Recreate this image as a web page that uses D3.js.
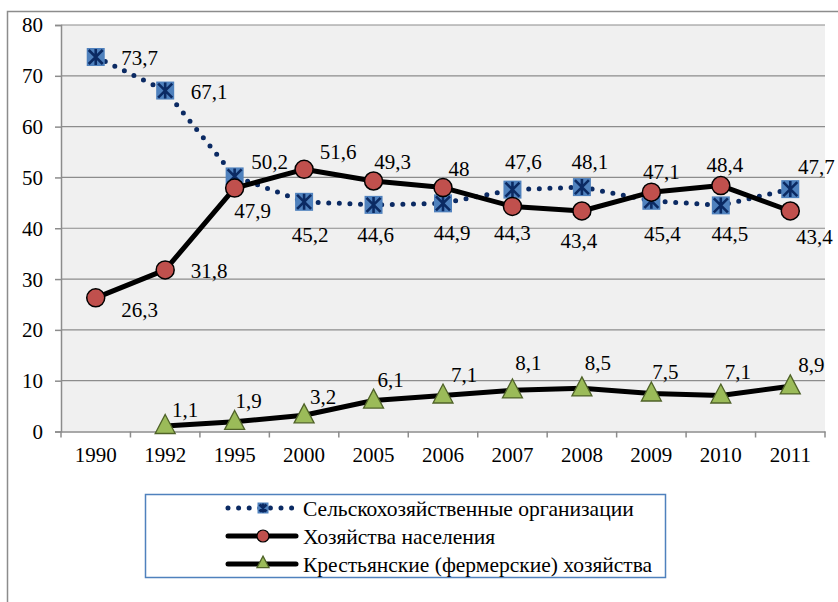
<!DOCTYPE html>
<html>
<head>
<meta charset="utf-8">
<script src="https://cdn.jsdelivr.net/npm/d3@7"></script>
<style>
  html, body { margin: 0; padding: 0; background: #fff; }
  svg { display: block; }
</style>
</head>
<body>
<svg id="chart" width="838" height="602"></svg>
<script>
// ---- data ----
const years = ["1990", "1992", "1995", "2000", "2005", "2006", "2007", "2008", "2009", "2010", "2011"];
const agriOrgs = [73.7, 67.1, 50.2, 45.2, 44.6, 44.9, 47.6, 48.1, 45.4, 44.5, 47.7];
const households = [26.3, 31.8, 47.9, 51.6, 49.3, 48, 44.3, 43.4, 47.1, 48.4, 43.4];
const farms = [null, 1.1, 1.9, 3.2, 6.1, 7.1, 8.1, 8.5, 7.5, 7.1, 8.9];
const yTicks = [0, 10, 20, 30, 40, 50, 60, 70, 80];
const seriesNames = ["Сельскохозяйственные организации", "Хозяйства населения", "Крестьянские (фермерские) хозяйства"];

// label offsets (dx, dy) relative to marker
const agriLabelOff = [[44,1],[44,1],[35,-15],[6,33],[2,30],[9,29],[11,-28],[8,-25],[11,33],[9,28],[26,-22]];
const hhLabelOff = [[44,12],[44,1],[18,23],[34,-18],[19,-19],[16,-19],[0,26],[-3,30],[10,-21],[4,-21],[24,26]];
const farmLabelOff = [null,[20,-16],[14,-21],[19,-19],[17,-21],[21,-21],[16,-28],[16,-26],[14,-22],[17,-24],[21,-22]];

const FONT = "Liberation Serif";
const FS = 21;

const svg = d3.select("#chart").attr("font-family", FONT);
const plot = {left: 61, right: 825, top: 25, bottom: 431.5};

// outer border
svg.append("path")
  .attr("d", `M7.5,602 L7.5,11.5 L838,11.5`)
  .attr("fill", "none").attr("stroke", "#8c8c8c").attr("stroke-width", 1.5);

// plot background
svg.append("rect")
  .attr("x", plot.left).attr("y", plot.top)
  .attr("width", plot.right - plot.left).attr("height", plot.bottom - plot.top)
  .attr("fill", "#f0f0f0");

const x = d3.scaleBand().domain(years).range([plot.left, plot.right]).padding(0);
const y = d3.scaleLinear().domain([0, 80]).range([plot.bottom, plot.top]);
const cx = d => x(d) + x.bandwidth() / 2;

// gridlines
svg.append("g").selectAll("line").data(yTicks.filter(t => t > 0)).join("line")
  .attr("x1", plot.left).attr("x2", plot.right)
  .attr("y1", d => y(d)).attr("y2", d => y(d))
  .attr("stroke", "#8c8c8c").attr("stroke-width", 1.2);

// y axis
const yAxis = svg.append("g").attr("transform", `translate(${plot.left},0)`)
  .call(d3.axisLeft(y).tickValues(yTicks).tickSize(6).tickPadding(12).tickFormat(d3.format("d")))
  .attr("font-family", FONT).attr("font-size", FS);
yAxis.select(".domain").attr("stroke", "#8c8c8c").attr("stroke-width", 1.5);
yAxis.selectAll(".tick line").attr("stroke", "#8c8c8c").attr("stroke-width", 1.5);
yAxis.selectAll(".tick text").attr("fill", "#000").attr("dy", "0.33em");

// x axis
const xAxis = svg.append("g").attr("transform", `translate(0,${plot.bottom})`)
  .call(d3.axisBottom(x).tickSize(0).tickPadding(16))
  .attr("font-family", FONT).attr("font-size", FS);
xAxis.select(".domain").attr("stroke", "#8c8c8c").attr("stroke-width", 1.5);
xAxis.selectAll(".tick text").attr("fill", "#000");
// boundary tick marks
svg.append("g").selectAll("line").data(d3.range(years.length + 1)).join("line")
  .attr("x1", i => plot.left + i * x.bandwidth()).attr("x2", i => plot.left + i * x.bandwidth())
  .attr("y1", plot.bottom).attr("y2", plot.bottom + 6)
  .attr("stroke", "#8c8c8c").attr("stroke-width", 1.5);

const line = d3.line().defined(d => d.v != null).x(d => cx(d.year)).y(d => y(d.v));
const toPts = arr => years.map((yr, i) => ({year: yr, v: arr[i], i}));

// markers
function squareMarker(g, px, py, s) {
  const h = s / 2;
  g.append("rect").attr("x", px - h).attr("y", py - h).attr("width", s).attr("height", s)
    .attr("fill", "#4f81bd");
  const k = h - 2;
  g.append("path")
    .attr("d", `M${px-k},${py-k}L${px+k},${py+k}M${px+k},${py-k}L${px-k},${py+k}M${px},${py-h+1}L${px},${py+h-1}`)
    .attr("stroke", "#0b2a63").attr("stroke-width", 2.6).attr("fill", "none");
}
function circleMarker(g, px, py) {
  g.append("circle").attr("cx", px).attr("cy", py).attr("r", 9)
    .attr("fill", "#c0504d").attr("stroke", "#000").attr("stroke-width", 1.5);
}
function triMarker(g, px, py, s) {
  const h = s * 0.95;
  g.append("path")
    .attr("d", `M${px},${py - h*0.6}L${px + s/2},${py + h*0.4}L${px - s/2},${py + h*0.4}Z`)
    .attr("fill", "#9bbb59").attr("stroke", "#4f6228").attr("stroke-width", 1.3);
}

// series 1: agricultural organizations (dotted)
const agriPts = toPts(agriOrgs);
svg.append("path").datum(agriPts).attr("d", line)
  .attr("fill", "none").attr("stroke", "#0b2a63").attr("stroke-width", 5)
  .attr("stroke-linecap", "round").attr("stroke-dasharray", "0 10.6");
const gA = svg.append("g");
agriPts.forEach(p => squareMarker(gA, cx(p.year), y(p.v), 18));

// series 2: households
const hhPts = toPts(households);
svg.append("path").datum(hhPts).attr("d", line)
  .attr("fill", "none").attr("stroke", "#000").attr("stroke-width", 5).attr("stroke-linejoin", "round");
const gH = svg.append("g");
hhPts.forEach(p => circleMarker(gH, cx(p.year), y(p.v)));

// series 3: farms
const farmPts = toPts(farms);
svg.append("path").datum(farmPts).attr("d", line)
  .attr("fill", "none").attr("stroke", "#000").attr("stroke-width", 5).attr("stroke-linejoin", "round");
const gF = svg.append("g");
farmPts.filter(p => p.v != null).forEach(p => triMarker(gF, cx(p.year), y(p.v), 20));

// data labels
const fmt = v => String(v).replace(".", ",");
function labels(pts, offs) {
  svg.append("g").attr("font-family", FONT).attr("font-size", FS)
    .selectAll("text").data(pts.filter(p => p.v != null)).join("text")
    .attr("x", p => cx(p.year) + offs[p.i][0])
    .attr("y", p => y(p.v) + offs[p.i][1])
    .attr("text-anchor", "middle").attr("dy", "0.35em")
    .attr("fill", "#000")
    .text(p => fmt(p.v));
}
labels(agriPts, agriLabelOff);
labels(hhPts, hhLabelOff);
labels(farmPts, farmLabelOff);

// legend
const lg = svg.append("g");
lg.append("rect").attr("x", 145.5).attr("y", 494.5).attr("width", 520).attr("height", 83)
  .attr("fill", "#fff").attr("stroke", "#4f81bd").attr("stroke-width", 1.5);
const rowsY = [508, 536, 564];
const lx1 = 228, lx2 = 296, lmid = 263;
// row 1
lg.append("line").attr("x1", lx1).attr("x2", lx2).attr("y1", rowsY[0]).attr("y2", rowsY[0])
  .attr("stroke", "#0b2a63").attr("stroke-width", 5).attr("stroke-linecap", "round").attr("stroke-dasharray", "0 10.6");
squareMarker(lg, lmid, rowsY[0], 11);
// row 2
lg.append("line").attr("x1", lx1).attr("x2", lx2).attr("y1", rowsY[1]).attr("y2", rowsY[1])
  .attr("stroke", "#000").attr("stroke-width", 5).attr("stroke-linecap", "round");
lg.append("circle").attr("cx", lmid).attr("cy", rowsY[1]).attr("r", 6)
  .attr("fill", "#c0504d").attr("stroke", "#000").attr("stroke-width", 1.2);
// row 3
lg.append("line").attr("x1", lx1).attr("x2", lx2).attr("y1", rowsY[2]).attr("y2", rowsY[2])
  .attr("stroke", "#000").attr("stroke-width", 5).attr("stroke-linecap", "round");
triMarker(lg, lmid, rowsY[2] - 1, 12);
lg.append("g").attr("font-family", FONT).attr("font-size", 21.5)
  .selectAll("text").data(seriesNames).join("text")
  .attr("x", 303).attr("y", (d, i) => rowsY[i]).attr("dy", "0.35em")
  .attr("fill", "#000").text(d => d);
</script>
</body>
</html>
